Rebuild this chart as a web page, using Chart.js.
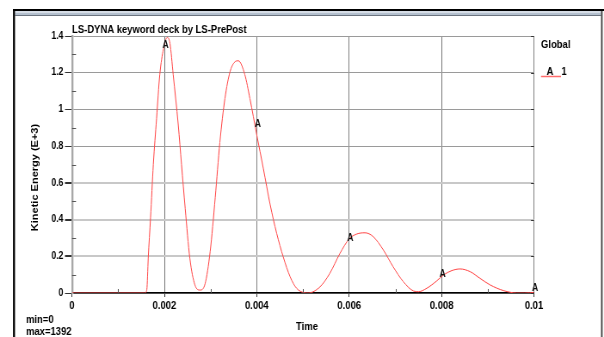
<!DOCTYPE html>
<html>
<head>
<meta charset="utf-8">
<script src="https://cdn.jsdelivr.net/npm/chart.js@4/dist/chart.umd.min.js"></script>
<style>
  html, body { margin: 0; padding: 0; background: #fff; overflow: hidden; }
  #wrap { width: 604px; height: 337px; position: relative; }
  #c { display: block; width: 604px; height: 337px; }
</style>
</head>
<body>
<div id="wrap"><canvas id="c" width="702" height="337" style="width:604px;height:337px"></canvas></div>
<script>
// ---- data ----
const chartTitle = 'LS-DYNA keyword deck by LS-PrePost';
const xAxisTitle = 'Time';
const yAxisTitle = 'Kinetic Energy (E+3)';
const legendTitle = 'Global';
const seriesName = 'A';
const seriesId = '1';
const minText = 'min=0';
const maxText = 'max=1392';

const times = [
  0.0000, 0.0010, 0.00158, 0.00162, 0.00165, 0.00170, 0.00176, 0.00183, 0.00190, 0.00198,
  0.00206, 0.00212, 0.00219, 0.00230, 0.00237, 0.00245, 0.00255, 0.00266, 0.00277,
  0.00288, 0.00299, 0.00310, 0.00320, 0.00331, 0.00342, 0.00351, 0.00360, 0.00374,
  0.00385, 0.00400, 0.00414, 0.00429, 0.00443, 0.00457, 0.00472, 0.00486, 0.00511,
  0.00537, 0.00558, 0.00580, 0.00600, 0.00616, 0.00634, 0.00652, 0.00674, 0.00695,
  0.00717, 0.00739, 0.00750, 0.00768, 0.00789, 0.00804, 0.00822, 0.00840, 0.00862,
  0.00883, 0.00905, 0.00934, 0.00963, 0.00980, 0.01000
];
const kineticEnergy = [
  0, 0, 0, 0.02, 0.19, 0.41, 0.70, 0.95, 1.19, 1.33,
  1.392, 1.36, 1.19, 0.915, 0.70, 0.46, 0.19, 0.044, 0.016,
  0.05, 0.225, 0.52, 0.82, 1.06, 1.205, 1.255, 1.265, 1.19,
  1.06, 0.86, 0.68, 0.48, 0.325, 0.198, 0.089, 0.026, 0.0,
  0.034, 0.107, 0.216, 0.295, 0.321, 0.328, 0.307, 0.234, 0.143,
  0.062, 0.011, 0.007, 0.026, 0.065, 0.098, 0.122, 0.131, 0.116,
  0.08, 0.044, 0.013, 0.0, 0.0, 0.003
];
// label markers "A" along the curve
const markerTimes = [0.002, 0.004, 0.006, 0.008, 0.010];
const markerValues = [1.347, 0.919, 0.298, 0.102, 0.026];

const xTickValues = [0, 0.002, 0.004, 0.006, 0.008, 0.01];
const xTickLabels = ['0', '0.002', '0.004', '0.006', '0.008', '0.01'];
const yTickValues = [0, 0.2, 0.4, 0.6, 0.8, 1.0, 1.2, 1.4];
const yTickLabels = ['0', '0.2', '0.4', '0.6', '0.8', '1', '1.2', '1.4'];

// ---- rendering ----
// The reference is a horizontally squeezed screenshot: the canvas is drawn wider and shown at 604px.
const SX = 604 / 702;
const FONT = "'Liberation Sans', Arial, sans-serif";
const X = v => v / SX;  // reference x pixel -> canvas x pixel
const points = times.map((t, i) => ({ x: t, y: kineticEnergy[i] }));

const decor = {
  id: 'decor',
  beforeDraw(chart) {
    const ctx = chart.ctx;
    ctx.save();
    ctx.fillStyle = '#ffffff';
    ctx.fillRect(0, 0, chart.width, chart.height);
    // window frame
    ctx.fillStyle = '#000000';
    ctx.fillRect(X(13), 9, chart.width - X(13), 2);
    ctx.fillStyle = '#d6dde6';
    ctx.fillRect(X(15), 11, X(601) - X(15), 2);
    ctx.fillStyle = '#b4c0ce';
    ctx.fillRect(X(15), 13, X(601) - X(15), 2);
    ctx.fillStyle = '#6b7480';
    ctx.fillRect(X(15), 15, X(601) - X(15), 1);
    ctx.fillStyle = '#000000';
    ctx.fillRect(X(13), 9, X(2), 328);
    ctx.fillStyle = '#404040';
    ctx.fillRect(X(601), 11, X(1.6), 326);
    ctx.restore();
  },
  afterDraw(chart) {
    const ctx = chart.ctx;
    const xs = chart.scales.x, ys = chart.scales.y;
    const a = chart.chartArea;
    ctx.save();
    // minor ticks (midpoints between major ticks)
    ctx.strokeStyle = '#555';
    ctx.lineWidth = 1;
    for (let i = 0; i < xTickValues.length - 1; i++) {
      const px = Math.round(xs.getPixelForValue((xTickValues[i] + xTickValues[i + 1]) / 2)) + 0.5;
      ctx.beginPath(); ctx.moveTo(px, a.bottom - 4); ctx.lineTo(px, a.bottom); ctx.stroke();
    }
    for (let i = 0; i < yTickValues.length - 1; i++) {
      const py = Math.round(ys.getPixelForValue((yTickValues[i] + yTickValues[i + 1]) / 2)) + 0.5;
      ctx.beginPath(); ctx.moveTo(a.left, py); ctx.lineTo(a.left + X(4), py); ctx.stroke();
    }
    // right border ticks
    ctx.strokeStyle = '#333';
    yTickValues.forEach(v => {
      const py = Math.round(ys.getPixelForValue(v)) + 0.5;
      ctx.beginPath(); ctx.moveTo(a.right - X(3), py); ctx.lineTo(a.right, py); ctx.stroke();
    });
    // "A" markers
    ctx.fillStyle = '#111';
    ctx.font = 'bold 10px ' + FONT;
    ctx.textAlign = 'center';
    ctx.textBaseline = 'middle';
    markerTimes.forEach((t, i) => {
      ctx.fillText(seriesName, xs.getPixelForValue(t) + X(1), ys.getPixelForValue(markerValues[i]));
    });
    // title
    ctx.fillStyle = '#000';
    ctx.font = 'bold 11px ' + FONT;
    ctx.textAlign = 'left';
    ctx.textBaseline = 'alphabetic';
    ctx.fillText(chartTitle, a.left, a.top - 3);
    // legend
    ctx.fillText(legendTitle, a.right + X(7), 48);
    ctx.fillText(seriesName, a.right + X(12.5), 75);
    ctx.fillText(seriesId, a.right + X(27.5), 75);
    ctx.strokeStyle = '#ff6b6b';
    ctx.lineWidth = 1.5;
    ctx.beginPath(); ctx.moveTo(a.right + X(7), 76.5); ctx.lineTo(a.right + X(27), 76.5); ctx.stroke();
    // min / max
    ctx.fillStyle = '#000';
    ctx.fillText(minText, X(26), 323);
    ctx.fillText(maxText, X(26), 335);
    // x axis title
    ctx.textAlign = 'center';
    ctx.fillText(xAxisTitle, X(307), 330);
    // y axis title (vertical)
    ctx.save();
    ctx.translate(X(35), 177.5);
    ctx.rotate(-Math.PI / 2);
    ctx.textAlign = 'center';
    ctx.textBaseline = 'middle';
    ctx.fillText(yAxisTitle, 0, 0);
    ctx.restore();
    ctx.restore();
  }
};

// horizontal grid lines at 0.2-0.6 look lighter and wider in the reference
const lightGrid = c => c.index >= 1 && c.index <= 3;

new Chart(document.getElementById('c'), {
  type: 'line',
  data: {
    datasets: [{
      label: seriesName + ' ' + seriesId,
      data: points,
      borderColor: '#ff4545',
      borderWidth: 1,
      pointRadius: 0,
      cubicInterpolationMode: 'monotone',
      fill: false
    }]
  },
  options: {
    responsive: false,
    animation: false,
    devicePixelRatio: 1,
    layout: { padding: { left: 0, top: 36, right: 702 - X(534), bottom: 0 } },
    plugins: { legend: { display: false }, title: { display: false }, tooltip: { enabled: false } },
    scales: {
      x: {
        type: 'linear', min: 0, max: 0.01,
        afterBuildTicks(scale) { scale.ticks = xTickValues.map(v => ({ value: v })); },
        afterFit(scale) { scale.height = 44; },
        ticks: {
          color: '#000', font: { family: FONT, size: 11, weight: 'bold' }, padding: 2, maxRotation: 0,
          callback: (v, i) => xTickLabels[i]
        },
        grid: { color: '#7c7c7c', lineWidth: 1, tickColor: '#333', tickLength: 4 },
        border: { display: true, color: '#000', width: 1.5 },
        title: { display: false }
      },
      y: {
        type: 'linear', min: 0, max: 1.4,
        afterBuildTicks(scale) { scale.ticks = yTickValues.map(v => ({ value: v })); },
        afterFit(scale) { scale.width = X(72); },
        ticks: {
          color: '#000', font: { family: FONT, size: 10, weight: 'bold' }, padding: 2,
          callback: (v, i) => yTickLabels[i]
        },
        grid: {
          color: c => lightGrid(c) ? '#c8c8c8' : '#9a9a9a',
          lineWidth: c => lightGrid(c) ? 2 : 1,
          tickColor: '#333', tickLength: X(7)
        },
        border: { display: true, color: '#a8a8a8', width: X(2) },
        title: { display: false }
      }
    }
  },
  plugins: [decor]
});
</script>
</body>
</html>
